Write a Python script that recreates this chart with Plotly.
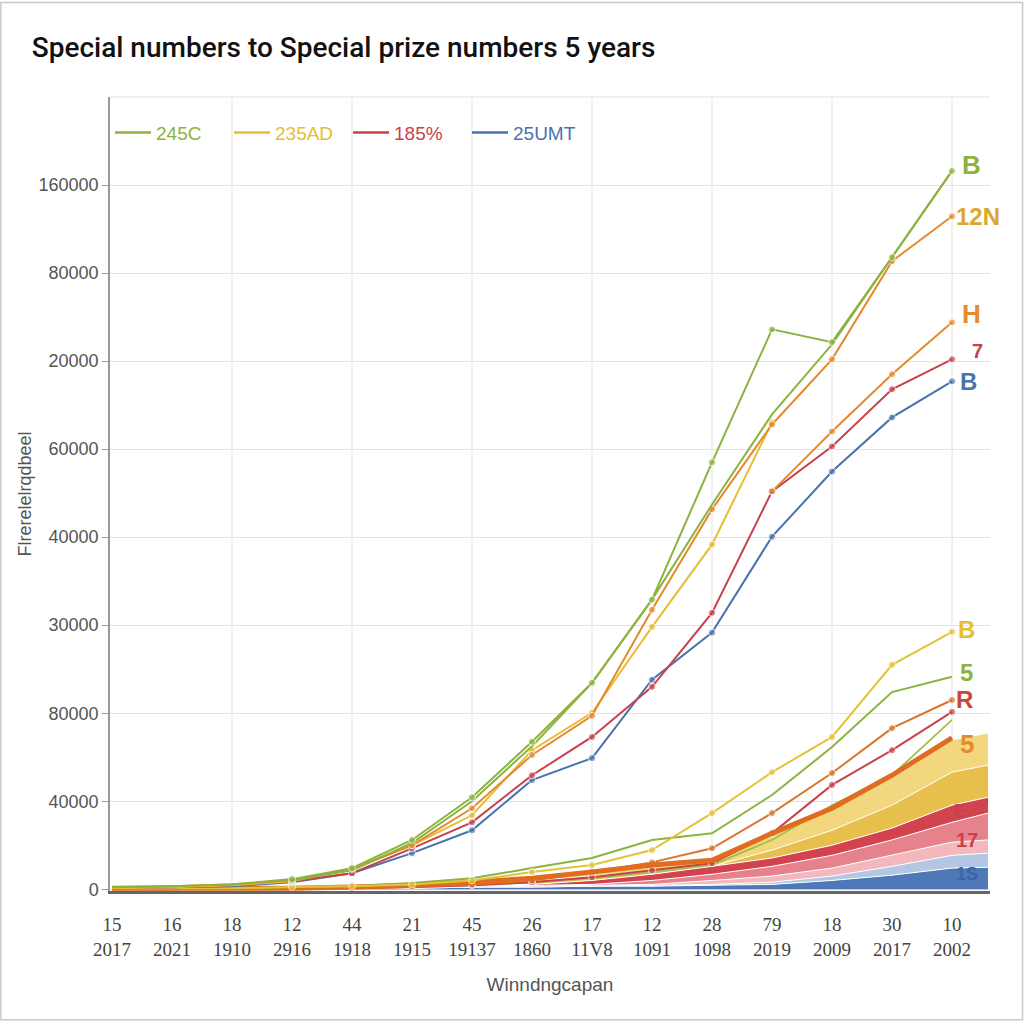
import plotly.graph_objects as go

# ---------------- data ----------------
title_text = "Special numbers to Special prize numbers 5 years"
x_top = ["15", "16", "18", "12", "44", "21", "45", "26", "17", "12", "28", "79", "18", "30", "10"]
x_bottom = ["2017", "2021", "1910", "2916", "1918", "1915", "19137", "1860", "11V8",
            "1091", "1098", "2019", "2009", "2017", "2002"]
x_idx = list(range(len(x_top)))
band_x = x_idx + [14.6]  # fill bands run on to the right edge

y_tickvals = [0, 20000, 40000, 60000, 80000, 100000, 120000, 140000, 160000]
y_ticktext = ["0", "40000", "80000", "30000", "40000", "60000", "20000", "80000", "160000"]

# upper group
s_245C = [500, 700, 1100, 2300, 4800, 11200, 20900, 33500, 46900, 65800, 97000, 127200, 124300, 143600, 163200]
s_245C_b = [None, None, None, 2000, 4300, 10500, 20000, 32500, 46900, 65800, 87400, 107900, 123800, 143600, 163200]
s_orange = [455, 683, 1138, 2048, 4552, 10000, 18400, 30500, 39400, 63500, 86300, 105600, 120400, 142700, 152900]
s_235AD = [228, 455, 910, 1821, 4780, 10000, 16800, 31600, 40100, 59600, 78300, 106100, None, None, None]
s_185 = [228, 455, 910, 1821, 3642, 9300, 15200, 25900, 34600, 46000, 62800, 90400, 100600, 113600, 120400]
s_H = [None, None, None, None, None, None, None, None, None, None, None, 90400, 104000, 117000, 128800]
s_25UMT = [228, 455, 683, 1593, 3642, 8200, 13400, 24800, 29800, 47600, 58300, 80100, 94900, 107200, 115400]

# lower group lines
low_yellow = [200, 200, 200, 500, 700, 1100, 2000, 3900, 5500, 8900, 17300, 26600, 34600, 51000, 58500]
low_green = [200, 200, 200, 500, 700, 1400, 2500, 4800, 7100, 11200, 12700, 21400, 32300, 44800, 48300]
low_orange = [200, 200, 200, 200, 500, 700, 1100, 2000, 3900, 6100, 9300, 17300, 26400, 36600, 43000]
low_red = [0, 0, 200, 200, 200, 500, 900, 1600, 2700, 4300, 5900, 12700, 23700, 31600, 40300]
low_lgreen = [0, 0, 200, 200, 200, 500, 900, 1600, 2500, 3900, 5500, 11200, 19100, 25900, 38500]
low_thick = [200, 200, 200, 200, 500, 900, 1600, 2500, 3900, 5500, 6600, 12700, 18400, 25900, 34400]

# stacked bands (top edge of each band)
band_blue = [0, 0, 0, 0, 200, 200, 500, 500, 700, 700, 900, 1100, 2000, 3200, 4800, 5000]
band_lblue = [0, 0, 0, 200, 200, 200, 500, 500, 700, 900, 1100, 1600, 3000, 5200, 7700, 8200]
band_lpink = [0, 0, 200, 200, 200, 500, 500, 700, 900, 1100, 2000, 3000, 4800, 7700, 10700, 11200]
band_pink = [0, 200, 200, 200, 500, 500, 700, 900, 1100, 2000, 3400, 5200, 7700, 11200, 15200, 17300]
band_red = [200, 200, 200, 500, 500, 700, 900, 1100, 2000, 3400, 5200, 7100, 10000, 13900, 19100, 20900]
band_gold = [200, 200, 500, 500, 700, 900, 1400, 2000, 3000, 4100, 5200, 8900, 13400, 19100, 26600, 28200]
band_lyellow = [200, 200, 200, 500, 700, 900, 1600, 2500, 3900, 5200, 6600, 12300, 18000, 25300, 33900, 35500]

# ---------------- styles ----------------
GREEN = "#8cb33e"
ORANGE = "#e38b2c"
YELLOW = "#e7bd35"
RED = "#c8414b"
BLUE = "#4a72ae"

fig = go.Figure()

bands = [
    (band_blue, "#4f78b6"),
    (band_lblue, "#b3c7e4"),
    (band_lpink, "#f2b8bd"),
    (band_pink, "#e5828c"),
    (band_red, "#d2424f"),
    (band_gold, "#e6bf4c"),
    (band_lyellow, "#f3d77e"),
]
for i, (vals, col) in enumerate(bands):
    fig.add_trace(go.Scatter(
        x=band_x, y=vals, mode="lines",
        line=dict(color="white", width=1),
        fill="tozeroy" if i == 0 else "tonexty",
        fillcolor=col, showlegend=False, hoverinfo="skip"))


def msize(vals, start=3, size=7):
    return [0 if (j < start or v is None) else size for j, v in enumerate(vals)]


lines = [
    # values, color, width, markers
    (low_lgreen, "#9cc24a", 1.8, False),
    (low_red, RED, 2, True),
    (low_orange, "#d9752a", 2, True),
    (low_thick, "#e06c1f", 5, False),
    (low_green, GREEN, 2, False),
    (low_yellow, "#e3c336", 2, True),
    (s_25UMT, BLUE, 2, True),
    (s_185, RED, 2, True),
    (s_H, ORANGE, 2, True),
    (s_235AD, YELLOW, 2, True),
    (s_orange, ORANGE, 2, True),
    (s_245C_b, GREEN, 2, False),
    (s_245C, GREEN, 2, True),
]
for vals, col, w, mk in lines:
    fig.add_trace(go.Scatter(
        x=x_idx, y=vals, mode="lines+markers" if mk else "lines",
        line=dict(color=col, width=w),
        marker=dict(size=msize(vals) if mk else 0, color=col),
        showlegend=False, connectgaps=False))

# legend entries (plain line symbols, coloured text)
legend_items = [("245C", GREEN), ("235AD", YELLOW), ("185%", RED), ("25UMT", BLUE)]
for name, col in legend_items:
    fig.add_trace(go.Scatter(
        x=[None], y=[None], mode="lines", line=dict(color=col, width=2.5),
        name=f"<span style='color:{col}'>{name}</span>", showlegend=True))

# end labels: text, y, colour, size, xshift, yshift
end_labels = [
    ("B", s_245C[-1], GREEN, 26, 8, 6),
    ("12N", s_orange[-1], "#d9a830", 24, 2, 0),
    ("H", s_H[-1], ORANGE, 26, 8, 8),
    ("7", s_185[-1], RED, 20, 18, 8),
    ("B", s_25UMT[-1], BLUE, 24, 6, 0),
    ("B", low_yellow[-1], YELLOW, 24, 4, 2),
    ("5", low_green[-1], GREEN, 24, 6, 4),
    ("R", low_orange[-1], "#c9473a", 24, 2, 0),
    ("5", low_thick[-1], ORANGE, 26, 6, -6),
    ("E", band_red[-2], "#c8414b", 18, 0, -6),
    ("17", band_lpink[-2], "#c8414b", 20, 2, 2),
    ("1S", band_blue[-2], "#3d64a4", 18, 2, -6),
]
for txt, yv, col, sz, xsh, ysh in end_labels:
    fig.add_annotation(x=14, y=yv, text=f"<b>{txt}</b>", showarrow=False,
                       xanchor="left", xshift=xsh, yshift=ysh,
                       font=dict(family="Liberation Sans", size=sz, color=col))

# vertical gridlines at every other category
for i in x_idx[2::2]:
    fig.add_shape(type="line", x0=i, x1=i, y0=0, y1=1, xref="x", yref="paper",
                  line=dict(color="#e3e3e3", width=1), layer="below")
# top border of plot
fig.add_shape(type="line", x0=0, x1=1, y0=1, y1=1, xref="paper", yref="paper",
              line=dict(color="#e3e3e3", width=1), layer="below")
# outer frame of the picture
fig.add_shape(type="rect", x0=-0.124, x1=1.037, y0=-0.162, y1=1.119,
              xref="paper", yref="paper", line=dict(color="#c8c8c8", width=1.5))

fig.update_layout(
    width=1024, height=1024,
    paper_bgcolor="white", plot_bgcolor="white",
    margin=dict(l=110, r=34, t=97, b=133),
    title=dict(text=title_text, x=0.031, xanchor="left", y=0.954, yanchor="middle",
               font=dict(family="Roboto", size=28, color="#111111", weight=500)),
    showlegend=True,
    legend=dict(orientation="h", x=0.0, y=0.955, xanchor="left", yanchor="middle",
                bgcolor="rgba(0,0,0,0)", font=dict(family="Liberation Sans", size=19),
                traceorder="normal", itemwidth=36, entrywidth=68, entrywidthmode="pixels"),
    font=dict(family="Liberation Sans"),
)
fig.update_xaxes(
    range=[-0.033, 14.633], tickmode="array", tickvals=x_idx,
    ticktext=[f"{a}<br>{b}" for a, b in zip(x_top, x_bottom)],
    tickfont=dict(family="Liberation Serif", size=19, color="#444444"),
    ticklabelstandoff=14,
    showgrid=False, zeroline=False, showline=True, linecolor="#666666", linewidth=3,
    ticks="", title=dict(text="Winndngcapan", standoff=20,
                         font=dict(family="Liberation Sans", size=19, color="#555555")),
)
fig.update_yaxes(
    range=[-400, 180000], tickmode="array", tickvals=y_tickvals, ticktext=y_ticktext,
    tickfont=dict(family="Liberation Sans", size=18, color="#555555"),
    showgrid=True, gridcolor="#e3e3e3", gridwidth=1, zeroline=False,
    showline=True, linecolor="#999999", linewidth=1.5, ticks="outside", ticklen=6,
    tickcolor="#999999",
    title=dict(text="Flrerelelrqdbeel", standoff=2,
               font=dict(family="Liberation Sans", size=18, color="#555555")),
)

fig.write_html("out.html", config={"displayModeBar": False},
               post_script="document.body.style.margin='0';")
